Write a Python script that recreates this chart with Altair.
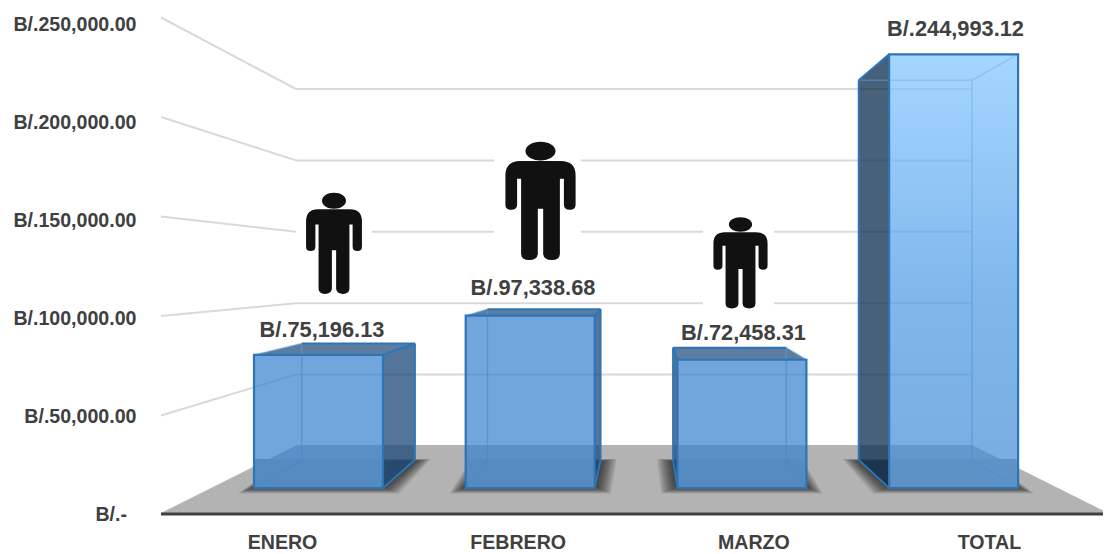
import altair as alt

# ---- chart data ----
categories = ["ENERO", "FEBRERO", "MARZO", "TOTAL"]
amounts = [75196.13, 97338.68, 72458.31, 244993.12]
value_labels = ["B/.75,196.13", "B/.97,338.68", "B/.72,458.31", "B/.244,993.12"]
axis_ticks = [0, 50000, 100000, 150000, 200000, 250000]

# ---- layout of the 3-D scene (page pixels) ----
W, H = 1095, 545
FONT = "Liberation Sans"
FS = 19.6
FS_VALUE = 21.8
TXT = "#404040"
SX = alt.Scale(domain=[8, 8 + W], range=[0, W], nice=False, zero=False)
SY = alt.Scale(domain=[8 + H, 8], range=[H, 0], nice=False, zero=False)


def X(f="x"):
    return alt.X(f"{f}:Q", scale=SX, axis=None, title=None)


def Y(f="y"):
    return alt.Y(f"{f}:Q", scale=SY, axis=None, title=None)


def front_y(v):
    return 488 - 0.00177 * v


def back_y(v):
    return 460 - 0.00155 * v


def back_x(x):
    return 79 + 0.877 * x


def wall_left_y(v):
    return 515 - 0.00199 * v


def wall_back_y(v):
    return 446 - 0.001428 * v


FRONT_LEFT, STEP, BAR_W = 254, 211.7, 129
BLUR = list(range(16, 0, -2))

faces_front, faces_side, faces_top, inner, outer, shadow, patch = [], [], [], [], [], [], []
DARK = "#1F4B7B"
for i, (cat, v) in enumerate(zip(categories, amounts)):
    fx0 = FRONT_LEFT + STEP * i
    fx1 = fx0 + BAR_W
    bx0, bx1 = back_x(fx0), back_x(fx1)
    ft, fb, bt, bb = front_y(v), 488, back_y(v), 460
    faces_front.append(dict(cat=cat, x=fx0, x2=fx1, y=ft, y2=fb))

    def edge(lst, a, b, c, d):
        lst.append(dict(x=a, y=b, x2=c, y2=d))

    col = "#0F3150" if cat == "TOTAL" else DARK
    if bx1 > fx1:
        faces_side += [dict(id=f"{cat}r", c=col, x=fx1, y=ft, y2=fb), dict(id=f"{cat}r", c=col, x=bx1, y=bt, y2=bb)]
        edge(outer, fx1, ft, bx1, bt); edge(outer, fx1, fb, bx1, bb); edge(outer, bx1, bt, bx1, bb)
    else:
        edge(inner, fx1, ft, bx1, bt); edge(inner, fx1, fb, bx1, bb); edge(inner, bx1, bt, bx1, bb)
    if bx0 < fx0:
        faces_side += [dict(id=f"{cat}l", c=col, x=bx0, y=bt, y2=bb), dict(id=f"{cat}l", c=col, x=fx0, y=ft, y2=fb)]
        edge(outer, fx0, ft, bx0, bt); edge(outer, fx0, fb, bx0, bb); edge(outer, bx0, bt, bx0, bb)
    else:
        edge(inner, fx0, ft, bx0, bt); edge(inner, fx0, fb, bx0, bb); edge(inner, bx0, bt, bx0, bb)
    if bt < ft:
        faces_top += [dict(id=cat, y=bt, x=bx0, x2=bx1), dict(id=cat, y=ft, x=fx0, x2=fx1)]
        edge(outer, bx0, bt, bx1, bt)
    else:
        edge(inner, bx0, bt, bx1, bt)
    patch.append(dict(x=fx0, x2=fx1, y=459, y2=488))
    for e in BLUR:
        shadow += [
            dict(id=cat, e=e, y=459 + (16 - e) * 0.12, x=bx0 - e, x2=bx1 + e),
            dict(id=cat, e=e, y=487 + e * 0.4, x=fx0 - e, x2=fx1 + e),
        ]

walls = []
for t in axis_ticks[1:]:
    walls.append(dict(x=161, y=wall_left_y(t), x2=296, y2=wall_back_y(t)))
    walls.append(dict(x=296, y=wall_back_y(t), x2=972, y2=wall_back_y(t)))

floor = [dict(y=445, x=297, x2=972), dict(y=513, x=161, x2=1108)]

halos = [
    dict(x=296, x2=372, y=188, y2=297),
    dict(x=494, x2=581, y=136, y2=266),
    dict(x=703, x2=774, y=213, y2=312),
]
people_slim = [dict(x=334, y=243.5, s=101 ** 2)]
people = [
    dict(x=540.5, y=201, s=118 ** 2),
    dict(x=740.5, y=263, s=91 ** 2),
]
labels_pos = [
    dict(t=value_labels[0], x=322, y=330),
    dict(t=value_labels[1], x=533, y=288),
    dict(t=value_labels[2], x=743.5, y=333),
    dict(t=value_labels[3], x=955.5, y=29),
]
zero_label = [dict(t="B/.-", x=127, y=wall_left_y(axis_ticks[0]))]

body = [
    ("M", 120, 92), ("L", 240, 92), ("Q", 285, 92, 285, 135), ("L", 285, 222),
    ("Q", 285, 238, 268, 238), ("Q", 250, 238, 250, 222), ("L", 250, 145), ("L", 238, 145),
    ("L", 238, 370), ("Q", 237, 388, 214, 388), ("Q", 190, 388, 188, 370), ("L", 188, 235),
    ("L", 172, 235), ("L", 172, 370), ("Q", 170, 388, 146, 388), ("Q", 123, 388, 122, 370),
    ("L", 122, 145), ("L", 110, 145), ("L", 110, 222), ("Q", 110, 238, 92, 238),
    ("Q", 75, 238, 75, 222), ("L", 75, 135), ("Q", 75, 92, 120, 92),
]


# person silhouette, outline in a 3x grid normalised to [-1, 1]
def person_path(k):
    def n(px, py):
        return f"{k * (px - 180) / 176.5:.4f} {(py - 211.5) / 176.5:.4f}"

    path = ""
    for seg in body:
        pts = seg[1:]
        path += seg[0] + " ".join(n(pts[j], pts[j + 1]) for j in range(0, len(pts), 2)) + " "
    path += "Z "
    path += (
        "M" + n(135, 62) + " C" + n(135, 46) + " " + n(155, 34) + " " + n(180, 34)
        + " C" + n(205, 34) + " " + n(225, 46) + " " + n(225, 62)
        + " C" + n(225, 78) + " " + n(205, 90) + " " + n(180, 90)
        + " C" + n(155, 90) + " " + n(135, 78) + " " + n(135, 62) + " Z"
    )
    return path


def D(rows):
    return alt.Data(values=rows)


def rules(rows, **kw):
    return alt.Chart(D(rows)).mark_rule(**kw).encode(x=X(), y=Y(), x2="x2:Q", y2="y2:Q")


def rects(rows, **kw):
    return alt.Chart(D(rows)).mark_rect(**kw).encode(x=X(), x2="x2:Q", y=Y(), y2="y2:Q")


def persons(rows, k):
    return alt.Chart(D(rows)).mark_point(
        shape=person_path(k), filled=True, color="#111111", opacity=1, strokeWidth=0
    ).encode(x=X(), y=Y(), size=alt.Size("s:Q", scale=None, legend=None))


grid = rules(walls, color="#D9D9D9", strokeWidth=2)
halo = rects(halos, color="white")
floor_l = alt.Chart(D(floor)).mark_area(orient="horizontal", color="#B3B3B3").encode(
    y=Y(), x=X(), x2="x2:Q"
)
shadow_layers = []
for e in BLUR:
    rows = [r for r in shadow if r["e"] == e]
    shadow_layers.append(
        alt.Chart(D(rows)).mark_area(orient="horizontal", color="#000000", opacity=0.11).encode(
            y=Y(), x=X(), x2="x2:Q", detail=alt.Detail("id:N")
        )
    )
patch_l = rects(patch, color="#A2A2A2")
side_l = alt.Chart(D(faces_side)).mark_area(opacity=0.77).encode(
    x=X(), y=Y(), y2="y2:Q", detail=alt.Detail("id:N"), color=alt.Color("c:N", scale=None)
)
top_l = alt.Chart(D(faces_top)).mark_area(orient="horizontal", color=DARK, opacity=0.72).encode(
    y=Y(), x=X(), x2="x2:Q", detail=alt.Detail("id:N")
)
inner_l = rules(inner, color="#5B9BD5", strokeWidth=1.5, opacity=0.55)
front3 = rects(faces_front[:3], color="#3582CD", opacity=0.71)
total_grad = alt.Gradient(
    gradient="linear", x1=0, x2=0, y1=0, y2=1,
    stops=[
        alt.GradientStop(offset=0, color="#80C5FF"),
        alt.GradientStop(offset=0.55, color="#4C9BE4"),
        alt.GradientStop(offset=1, color="#3F8AD3"),
    ],
)
front4 = alt.Chart(D(faces_front[3:])).mark_rect(fill=total_grad, opacity=0.71).encode(
    x=X(), x2="x2:Q", y=Y(), y2="y2:Q"
)
outline = rects(faces_front, fillOpacity=0, stroke="#2E75B6", strokeWidth=2.2)
outer_l = rules(outer, color="#2E75B6", strokeWidth=2)
baseline = rules([dict(x=161, x2=1108, y=514, y2=514)], color="#404040", strokeWidth=3)

text_l = alt.Chart(D(labels_pos)).mark_text(
    font=FONT, fontSize=FS_VALUE, fontWeight="bold", color=TXT, align="center", baseline="middle"
).encode(x=X(), y=Y(), text="t:N")
zero_l = alt.Chart(D(zero_label)).mark_text(
    font=FONT, fontSize=FS, fontWeight="bold", color=TXT, align="right", baseline="middle"
).encode(x=X(), y=Y(), text="t:N")

y_axis_l = alt.Chart(D([dict(v=t) for t in axis_ticks[1:]])).mark_point(opacity=0).encode(
    x=alt.value(0),
    y=alt.Y(
        "v:Q",
        title=None,
        scale=alt.Scale(domain=[0, 250000], range=[507, 16], nice=False, zero=False),
        axis=alt.Axis(
            values=axis_ticks[1:], orient="left", offset=-128, domain=False, ticks=False, grid=False,
            labelPadding=0, labelFont=FONT, labelFontSize=FS, labelFontWeight="bold",
            labelColor=TXT, labelBaseline="middle", labelOverlap=False,
            labelExpr="'B/.' + format(datum.value, ',.2f')",
        ),
    ),
)
x_axis_l = alt.Chart(D([dict(c=c) for c in categories])).mark_point(opacity=0).encode(
    y=alt.value(0),
    x=alt.X(
        "c:N",
        title=None,
        sort=categories,
        scale=alt.Scale(type="point", domain=categories, range=[274, 981], padding=0),
        axis=alt.Axis(
            orient="bottom", offset=-11, domain=False, ticks=False, grid=False, labelAngle=0,
            labelPadding=0, labelFont=FONT, labelFontSize=FS, labelFontWeight="bold",
            labelColor=TXT, labelBaseline="middle", labelOverlap=False,
        ),
    ),
)

chart = (
    alt.layer(
        grid, halo, floor_l, *shadow_layers, patch_l, side_l, top_l, inner_l, front3, front4, outline, outer_l,
        baseline, persons(people_slim, 0.93), persons(people, 1.0), text_l, zero_l, y_axis_l, x_axis_l,
    )
    .resolve_scale(x="independent", y="independent")
    .properties(width=W, height=H, padding=0, autosize=alt.AutoSizeParams(type="none"), background="white")
    .configure_view(stroke=None)
)

chart.save("out.html", embed_options={"renderer": "svg", "actions": False})
